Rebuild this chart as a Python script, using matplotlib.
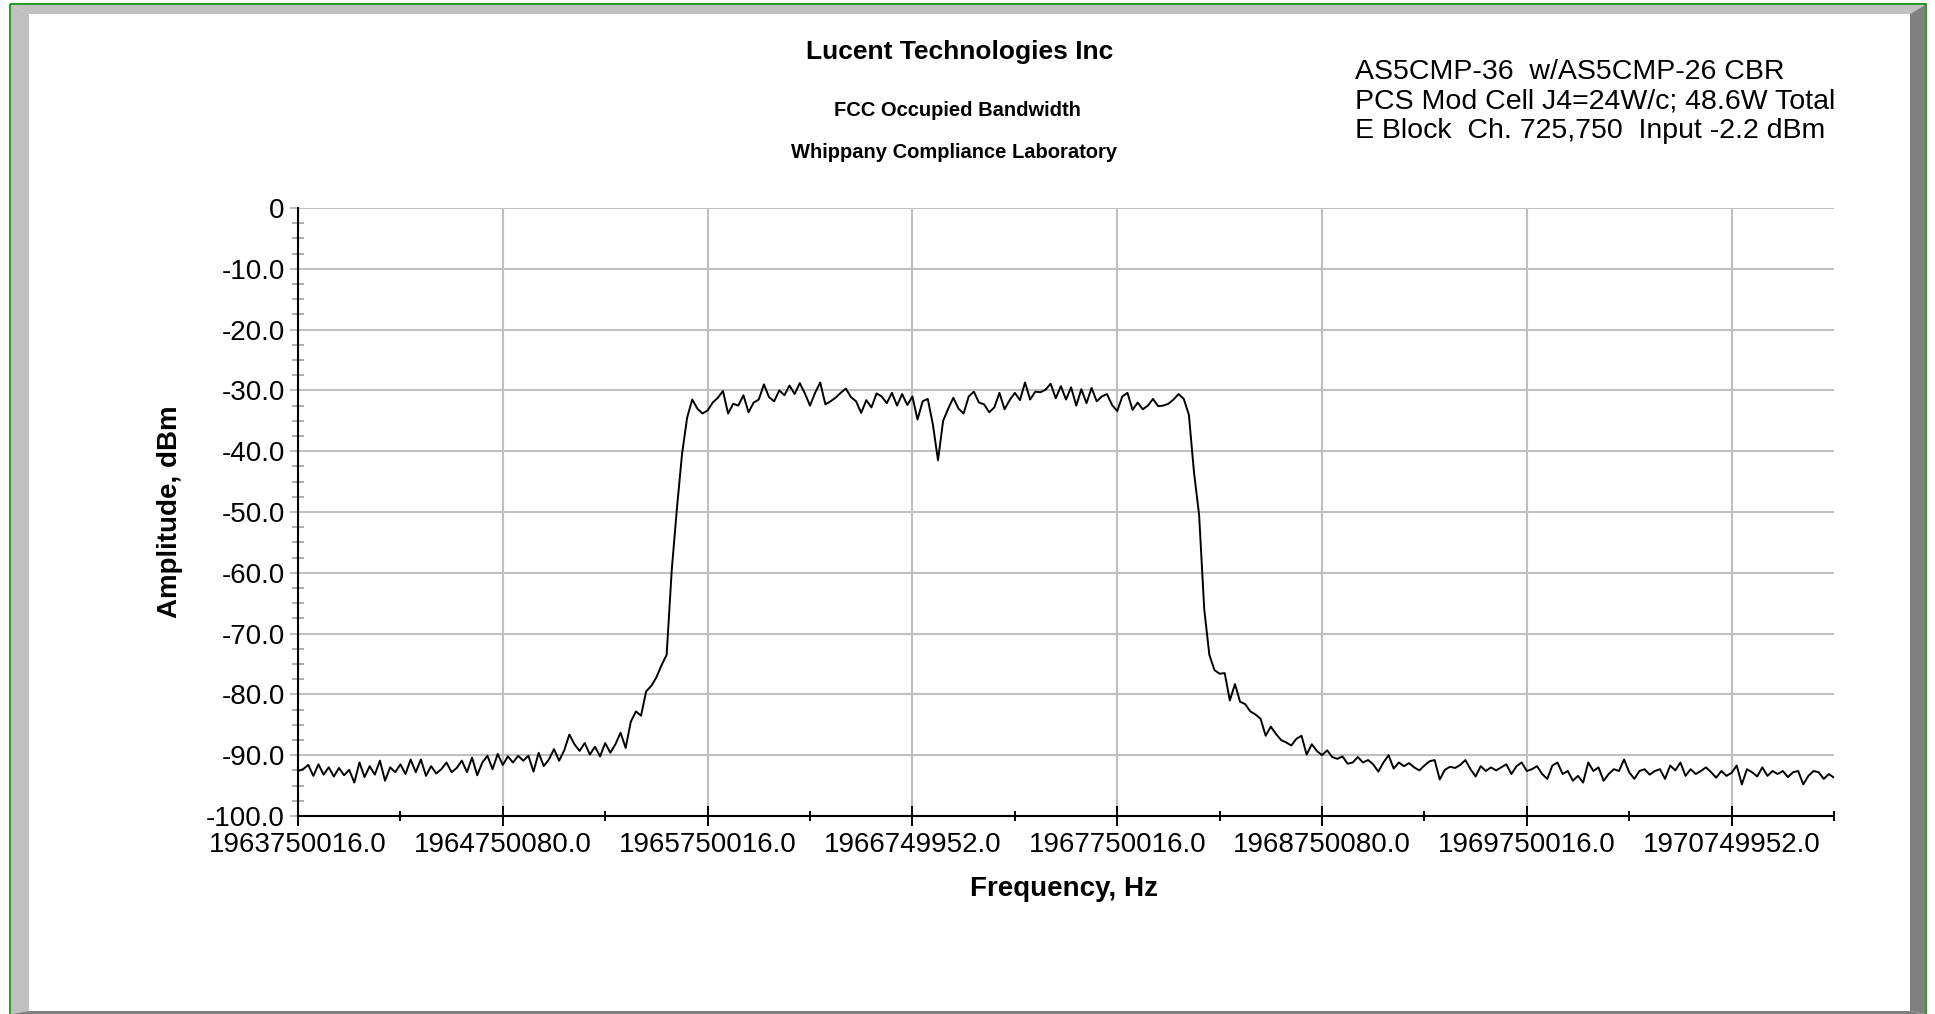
import matplotlib
matplotlib.use("Agg")
import matplotlib.pyplot as plt
import numpy as np
from matplotlib.patches import Polygon, Rectangle

plt.rcParams['font.family'] = ['Liberation Sans', 'DejaVu Sans']

# sweep settings (Hz)
f_start = 1963750016.0
f_stop = 1971250016.0

# trace amplitude (dBm), one value per sweep point
amp_dbm = [
    -92.6, -92.3, -91.6, -93.4, -91.5, -93.2, -92.0, -93.5, -92.1, -93.3,
    -92.4, -94.5, -91.2, -93.6, -91.8, -93.2, -90.9, -94.2, -92.0, -92.8,
    -91.5, -93.1, -90.7, -92.8, -90.7, -93.4, -91.8, -93.0, -92.3, -91.2,
    -92.8, -92.1, -90.9, -92.8, -90.4, -93.3, -91.2, -90.1, -92.3, -89.8,
    -91.6, -90.2, -91.2, -90.1, -90.9, -90.1, -92.7, -89.6, -91.8, -90.7,
    -89.0, -90.9, -89.2, -86.6, -88.2, -89.3, -88.0, -89.9, -88.6, -90.2,
    -88.0, -89.6, -88.2, -86.3, -88.8, -84.5, -82.8, -83.5, -79.5, -78.6,
    -77.2, -75.2, -73.5, -59.5, -49.5, -40.5, -34.5, -31.5, -33.0, -33.8,
    -33.3, -32.0, -31.2, -30.1, -33.8, -32.2, -32.5, -30.8, -33.6, -32.0,
    -31.5, -29.0, -31.1, -31.8, -30.0, -30.8, -29.2, -30.6, -28.8, -30.5,
    -32.5, -30.4, -28.7, -32.3, -31.8, -31.2, -30.4, -29.7, -31.1, -31.8,
    -33.7, -31.6, -32.8, -30.5, -31.0, -32.1, -30.4, -32.5, -30.6, -32.4,
    -31.0, -34.8, -31.8, -31.4, -35.6, -41.5, -35.0, -33.0, -31.2, -33.0,
    -33.8, -31.0, -30.2, -32.0, -32.3, -33.6, -32.8, -30.4, -33.1, -31.6,
    -30.4, -31.6, -28.7, -31.5, -30.2, -30.3, -29.9, -28.9, -31.3, -29.3,
    -31.5, -29.5, -32.5, -29.8, -32.1, -29.6, -31.8, -31.0, -30.6, -32.4,
    -33.4, -31.0, -30.4, -33.2, -32.0, -33.1, -32.5, -31.4, -32.6, -32.5,
    -32.2, -31.5, -30.6, -31.4, -34.0, -43.5, -50.5, -66.0, -73.5, -76.0,
    -76.6, -76.5, -81.0, -78.3, -81.2, -81.6, -82.8, -83.3, -84.0, -86.8,
    -85.3, -86.5, -87.5, -87.9, -88.4, -87.3, -86.8, -89.9, -88.2, -89.3,
    -90.0, -89.2, -90.3, -90.6, -90.2, -91.4, -91.2, -90.3, -91.2, -90.8,
    -91.5, -92.7, -91.2, -90.0, -92.2, -91.2, -91.8, -91.3, -92.0, -92.5,
    -91.7, -91.0, -90.8, -94.0, -92.4, -91.9, -92.1, -91.6, -90.8, -92.3,
    -93.5, -91.8, -92.6, -92.0, -92.5, -92.0, -91.5, -93.1, -91.8, -91.2,
    -92.6, -92.3, -91.8, -93.1, -93.9, -91.7, -91.2, -93.1, -92.6, -94.2,
    -93.4, -94.5, -91.2, -92.6, -92.0, -94.2, -93.1, -92.3, -92.6, -90.7,
    -92.8, -93.9, -92.6, -92.3, -93.2, -92.6, -92.3, -93.9, -91.7, -92.5,
    -91.2, -93.4, -92.3, -93.1, -92.6, -92.0, -92.8, -93.7, -92.6, -93.4,
    -92.9, -91.7, -94.8, -92.3, -92.8, -93.5, -92.0, -93.4, -92.6, -93.1,
    -92.6, -93.6, -92.8, -92.6, -94.8, -93.4, -92.6, -92.8, -93.9, -93.1,
    -93.7,
]
freq_hz = np.linspace(f_start, f_stop, len(amp_dbm))

x_ticks = [1963750016.0, 1964750080.0, 1965750016.0, 1966749952.0,
           1967750016.0, 1968750080.0, 1969750016.0, 1970749952.0]
y_ticks = [0, -10, -20, -30, -40, -50, -60, -70, -80, -90, -100]
y_labels = ['0', '-10.0', '-20.0', '-30.0', '-40.0', '-50.0',
            '-60.0', '-70.0', '-80.0', '-90.0', '-100.0']

info_lines = ['AS5CMP-36  w/AS5CMP-26 CBR',
              'PCS Mod Cell J4=24W/c; 48.6W Total',
              'E Block  Ch. 725,750  Input -2.2 dBm']

W, H = 1935, 1014
fig = plt.figure(figsize=(W / 100, H / 100), dpi=100)

# bevelled frame drawn in pixel coordinates
bg = fig.add_axes([0, 0, 1, 1])
bg.set_xlim(0, W)
bg.set_ylim(H, 0)
bg.axis('off')
light, dark = '#c0c0c0', '#808080'
bg.add_patch(Polygon([(11, 5), (1925, 5), (1910, 14), (29, 14)], color=light, lw=0))
bg.add_patch(Polygon([(11, 5), (29, 14), (29, 1011), (11, 1014)], color=light, lw=0))
bg.add_patch(Polygon([(1925, 5), (1925, 1014), (1910, 1011), (1910, 14)], color=dark, lw=0))
bg.add_patch(Polygon([(11, 1014), (29, 1011), (1910, 1011), (1925, 1014)], color=dark, lw=0))
bg.add_patch(Rectangle((10, 4), 1916, 1014, fill=False, edgecolor='#008800', lw=1.2))

# titles
fig.text(960 / W, 1 - 59 / H, 'Lucent Technologies Inc', ha='center', va='baseline',
         fontsize=19, fontweight='bold')
fig.text(957 / W, 1 - 116.5 / H, 'FCC Occupied Bandwidth', ha='center', va='baseline',
         fontsize=14.5, fontweight='bold')
fig.text(954 / W, 1 - 157.5 / H, 'Whippany Compliance Laboratory', ha='center', va='baseline',
         fontsize=14.5, fontweight='bold')
for k, line in enumerate(info_lines):
    fig.text(1355 / W, 1 - (79 + 29.5 * k) / H, line, ha='left', va='baseline', fontsize=20.5)

# main plot
ax = fig.add_axes([298 / W, 1 - 816 / H, 1536 / W, 608 / H])
ax.set_facecolor('none')
ax.plot(freq_hz, amp_dbm, color='black', lw=1.4, zorder=3)

ax.set_xlim(f_start, f_stop)
ax.set_ylim(-100, 0)
ax.set_xticks(x_ticks, ['%.1f' % v for v in x_ticks])
ax.set_xticks(np.arange(f_start + 0.5e6, f_stop + 1, 1e6), minor=True)
ax.set_yticks(y_ticks, y_labels)
ax.set_yticks(np.arange(-97.5, 0, 2.5), minor=True)

ax.grid(True, which='major', color='#c0c0c0', lw=1.5)
ax.set_axisbelow(True)
for side in ['top', 'right']:
    ax.spines[side].set_visible(False)
for side in ['left', 'bottom']:
    ax.spines[side].set_linewidth(1.5)
    ax.spines[side].set_zorder(4)

ax.tick_params(axis='x', which='major', direction='inout', length=14, width=1.4,
               color='black', labelsize=20, pad=4.5)
ax.tick_params(axis='x', which='minor', direction='inout', length=7, width=1.4, color='black')
ax.tick_params(axis='y', which='major', direction='out', length=6, width=1.5,
               color='#c0c0c0', labelsize=20, pad=3.5)
ax.tick_params(axis='y', which='minor', direction='inout', length=8.5, width=1.5, color='#b0b0b0')

fig.text(1064 / W, 1 - 889 / H, 'Frequency, Hz', ha='center', va='center',
         fontsize=20, fontweight='bold')
fig.text(170 / W, 1 - 512 / H, 'Amplitude, dBm', ha='center', va='center',
         rotation=90, fontsize=20, fontweight='bold')

fig.savefig('out.png', dpi=100)
